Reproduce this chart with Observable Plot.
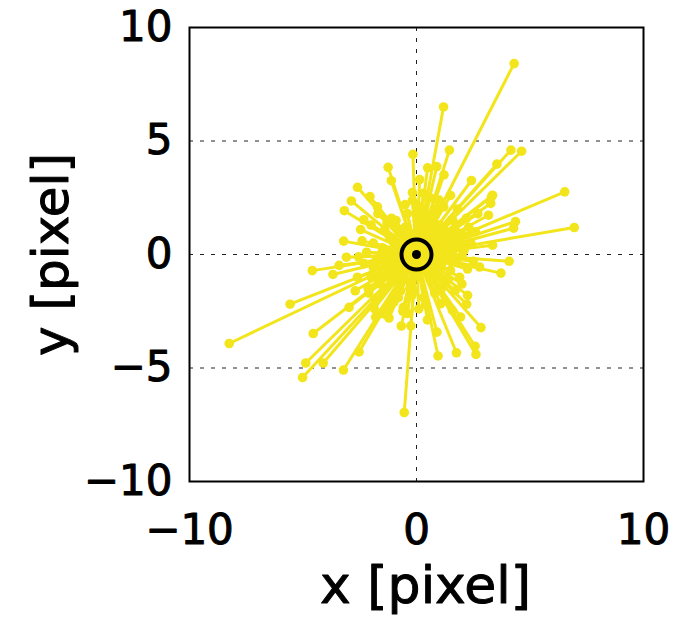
<!DOCTYPE html>
<html>
<head>
<meta charset="utf-8">
<script src="https://cdn.jsdelivr.net/npm/d3@7"></script>
<script src="https://cdn.jsdelivr.net/npm/@observablehq/plot@0.6"></script>
<style>
  html, body { margin: 0; padding: 0; background: #fff; }
  #chart { width: 673px; height: 622px; }
</style>
</head>
<body>
<div id="chart"></div>
<script>
// Displacement end points (x, y) in pixels
const dispX = [
  4.30, 1.19, -0.16, 1.45, 4.16, 4.63, -1.25, -1.11, 0.49, 0.89,
  1.21, 0.14, 3.54, 2.42, -2.60, -2.05, -2.87, -3.18, -1.72, -0.18,
  -0.18, 6.53, 6.95, 3.35, 3.27, 3.17, 4.36, 4.28, -2.46, -3.21,
  -2.32, -0.85, 3.35, 4.08, 3.72, 2.78, 2.25, -4.59, -3.68, -3.41,
  -3.09, -2.55, -5.57, -8.25, -4.55, -4.88, -5.02, -4.11, -3.22, -2.53,
  -2.97, -2.14, -1.80, -1.21, -0.58, -0.67, -0.25, -0.54, 0.48, 0.90,
  0.95, 1.76, 2.58, 2.62, 2.84, 2.21, 2.25, 1.94, 1.58, 3.30,
  -1.37, 1.06, 2.01, -1.86, -1.31,
  -1.5, -1.2, -0.9, -0.4, 0.2, 0.6, 1.0, 1.4, 1.7, 1.8,
  1.5, 1.2, 0.8, 0.3, -0.2, -0.7, -1.1, -1.5, -1.8, -1.9,
  -1.3, 0.9, 1.6, 2.0, 1.9, -1.6, -0.5, 0.4, -2.2, 2.1,
  -1.0, 0.7, 1.1, -0.6, 0.3, -0.3, 1.3, -1.3, 0.9, -0.8,
  2.3, -2.0, 1.0, -1.0, 2.5, -2.4, 0.0, 0.1, 1.7, -1.7,
  0.5, 0.8, -0.4, -0.7, 0.2, -0.1, 1.0, -1.0, 0.6, -0.5,
  1.3, -1.2, 1.5, -1.4, 0.4, -0.3, 1.1, -1.1, 1.7, -1.7,
  0.7, -0.8, 1.9, -1.9, 1.4, -1.4, 0.1, -0.1, 1.6, -1.6,
  2.2, -2.1, 1.2, -1.2, 2.4, -2.3, 0.6, -0.6, 2.0, -2.0,
  1.8, -1.8, 2.6, -2.6, 0.3, -0.4, 1.5, -1.5, 2.7, -2.7,
  0.9, -0.9, 0.2, -0.2, 1.2, -1.1, 0.5, -0.5, 0.8, -0.8
];
const dispY = [
  8.41, 6.50, 4.41, 4.60, 4.60, 4.55, 3.84, 3.25, 3.82, 3.87,
  3.51, 3.30, 3.98, 3.26, 2.96, 2.55, 2.36, 1.93, 2.10, 2.73,
  2.38, 2.76, 1.19, 2.61, 2.25, 1.73, 1.45, 1.16, 1.10, 0.59,
  1.53, 1.14, 0.41, -0.30, -0.82, -0.55, -0.64, -0.71, -0.88, -0.48,
  -0.12, -0.10, -2.19, -3.92, -3.48, -4.78, -5.42, -4.78, -5.09, -4.29,
  -2.33, -1.47, -2.76, -2.80, -2.33, -3.15, -3.14, -6.96, -2.88, -3.42,
  -4.47, -4.33, -4.04, -4.40, -3.22, -2.19, -1.80, -2.75, -2.46, 2.54,
  -2.54, -2.17, -0.04, -2.38, -2.67,
  0.3, 0.8, 1.5, 1.8, 1.9, 1.6, 1.3, 0.9, 0.4, -0.2,
  -0.7, -1.3, -1.7, -1.9, -1.8, -1.6, -1.2, -0.8, -0.3, 0.5,
  1.4, 2.0, 1.5, 0.9, -1.0, -1.3, 2.2, -2.2, 0.1, 0.2,
  0.5, 0.8, -0.5, -0.9, 1.1, -1.2, 0.2, -0.2, -1.0, 1.0,
  1.2, -1.0, 2.4, -2.1, -0.3, 0.6, 2.2, -2.4, -1.6, 1.8,
  0.3, -0.2, 0.6, -0.3, -0.7, 0.9, 0.6, -0.7, -1.1, 1.2,
  1.0, -1.0, -0.3, 0.2, 1.4, -1.5, -1.5, 1.6, 1.1, -1.1,
  1.8, -1.9, 0.6, -0.6, -1.1, 1.1, 1.6, -1.6, 0.0, 0.0,
  1.6, -1.7, 2.1, -2.3, 0.5, -0.4, 2.5, -2.5, -1.3, 1.3,
  2.0, -2.0, 1.0, -1.0, 2.7, -2.6, 2.6, -2.6, 1.8, -1.6,
  0.1, 0.2, 0.5, -0.5, 0.4, -0.4, -0.6, 0.8, 1.2, -1.2
];
const xTicks = [-10, 0, 10];
const yTicks = [-10, -5, 0, 5, 10];
const gridX = [0];
const gridY = [-5, 0, 5];
const origin = [{x: 0, y: 0}];
const xLabel = "x [pixel]";
const yLabel = "y [pixel]";

const data = dispX.map((x, i) => ({x, y: dispY[i]}));
const yellow = "#f3e51b";
const fmt = d => d < 0 ? "\u2212" + Math.abs(d) : String(d);
const font = "'DejaVu Sans', sans-serif";

const chart = Plot.plot({
  width: 673,
  height: 622,
  marginLeft: 189,
  marginRight: 30,
  marginTop: 27,
  marginBottom: 141,
  style: {fontFamily: font, background: "#fff", color: "#000"},
  x: {domain: [-10, 10]},
  y: {domain: [-10, 10]},
  marks: [
    Plot.ruleX(gridX, {stroke: "#222", strokeWidth: 1, strokeDasharray: "4,7"}),
    Plot.ruleY(gridY, {stroke: "#222", strokeWidth: 1, strokeDasharray: "4,7"}),
    Plot.link(data, {x1: d => 0, y1: d => 0, x2: "x", y2: "y", stroke: yellow, strokeWidth: 3}),
    Plot.dot(data, {x: "x", y: "y", r: 4.8, fill: yellow}),
    Plot.dot(origin, {x: "x", y: "y", r: 15, stroke: "#000", strokeWidth: 4, fill: "none"}),
    Plot.dot(origin, {x: "x", y: "y", r: 4.5, fill: "#000"}),
    Plot.frame({stroke: "#000", strokeWidth: 2}),
    Plot.axisX(xTicks, {anchor: "bottom", tickSize: 0, tickPadding: 33, tickFormat: fmt, fontSize: 42, label: null, textStroke: "#000", textStrokeWidth: 1}),
    Plot.axisY(yTicks, {anchor: "left", tickSize: 0, tickPadding: 17, tickFormat: fmt, fontSize: 42, label: null, textStroke: "#000", textStrokeWidth: 1}),
    Plot.text([xLabel], {text: d => d, frameAnchor: "bottom", dx: 9, dy: 105, fontSize: 52, lineAnchor: "middle", textAnchor: "middle", fill: "#000", stroke: "#000", strokeWidth: 1}),
    Plot.text([yLabel], {text: d => d, frameAnchor: "left", dx: -138, dy: 0, rotate: -90, fontSize: 50, lineAnchor: "middle", textAnchor: "middle", fill: "#000", stroke: "#000", strokeWidth: 1})
  ]
});
document.getElementById("chart").appendChild(chart);
</script>
</body>
</html>
